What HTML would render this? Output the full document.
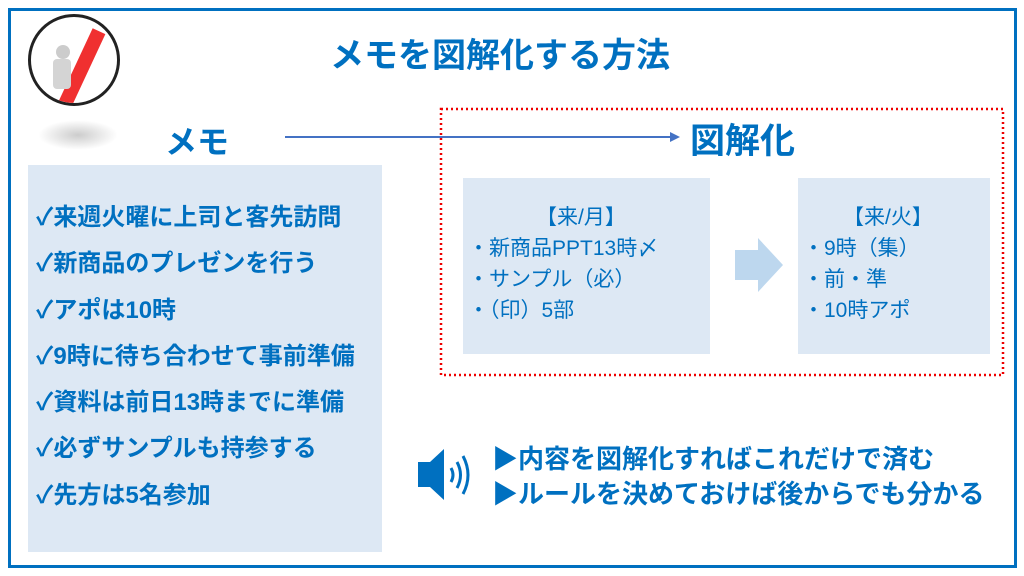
<!DOCTYPE html>
<html><head><meta charset="utf-8"><style>
body{margin:0;width:1024px;height:576px;background:#fff;position:relative;overflow:hidden;font-family:"Liberation Sans","Noto Sans CJK JP",sans-serif;color:#0070c0}
.a{position:absolute;white-space:nowrap}
.b{font-weight:bold}
</style></head><body>
<div class="a" style="left:8px;top:8px;width:1003px;height:554px;border:3px solid #0070c0"></div>
<div class="a" style="left:28px;top:14px;width:92px;height:92px;border:3px solid #222;border-radius:50%;box-sizing:border-box;overflow:hidden;background:#fff">
 <div class="a" style="left:42px;top:10px;width:14px;height:90px;background:#f03030;transform:rotate(25deg)"></div>
 <div class="a" style="left:25px;top:28px;width:14px;height:14px;border-radius:50%;background:#ccc"></div>
 <div class="a" style="left:22px;top:42px;width:18px;height:30px;background:#d4d4d4;border-radius:4px"></div>
</div>
<div class="a" style="left:38px;top:120px;width:80px;height:30px;border-radius:50%;background:radial-gradient(#ccc,#fff 70%)"></div>
<div class="a b" style="left:0;width:1000px;text-align:center;top:28px;font-size:34px">メモを図解化する方法</div>
<div class="a b" style="left:165px;top:117px;font-size:32px">メモ</div>
<div class="a b" style="left:690px;top:113px;font-size:35px">図解化</div>
<svg class="a" style="left:0;top:0" width="1024" height="576">
<line x1="285" y1="137" x2="675" y2="137" stroke="#4472c4" stroke-width="2"/>
<polygon points="680,137 670,132 670,142" fill="#4472c4"/>
<rect x="441" y="109" width="562" height="266" fill="none" stroke="#e00" stroke-width="2.5" stroke-dasharray="2,3"/>
<polygon points="735,250 758,250 758,238 783,265 758,292 758,280 735,280" fill="#bdd7ee"/>
<polygon points="418,462 430,462 444,449 444,500 430,487 418,487" fill="#0070c0"/>
<path d="M451,468 Q455,475 451,482" stroke="#0070c0" stroke-width="3" fill="none"/>
<path d="M457,462 Q464,475 457,488" stroke="#0070c0" stroke-width="3" fill="none"/>
<path d="M463,456 Q473,475 463,494" stroke="#0070c0" stroke-width="3" fill="none"/>
</svg>
<div class="a" style="left:28px;top:165px;width:354px;height:387px;background:#dde8f4"></div>
<div class="a b" style="left:36px;top:195px;font-size:24px;line-height:46.3px">✓来週火曜に上司と客先訪問<br>✓新商品のプレゼンを行う<br>✓アポは10時<br>✓9時に待ち合わせて事前準備<br>✓資料は前日13時までに準備<br>✓必ずサンプルも持参する<br>✓先方は5名参加</div>
<div class="a" style="left:463px;top:178px;width:247px;height:176px;background:#dde8f4"></div>
<div class="a" style="left:798px;top:178px;width:192px;height:176px;background:#dde8f4"></div>
<div class="a" style="left:468px;top:202px;font-size:21px;line-height:31px;color:#0070c0"><div style="padding-left:68px">【来/月】</div>・新商品PPT13時〆<br>・サンプル（必）<br>・（印）5部</div>
<div class="a" style="left:803px;top:202px;font-size:21px;line-height:31px;color:#0070c0"><div style="padding-left:40px">【来/火】</div>・9時（集）<br>・前・準<br>・10時アポ</div>
<div class="a b" style="left:492px;top:442px;font-size:26px;line-height:35px">▶内容を図解化すればこれだけで済む<br>▶ルールを決めておけば後からでも分かる</div>
</body></html>
